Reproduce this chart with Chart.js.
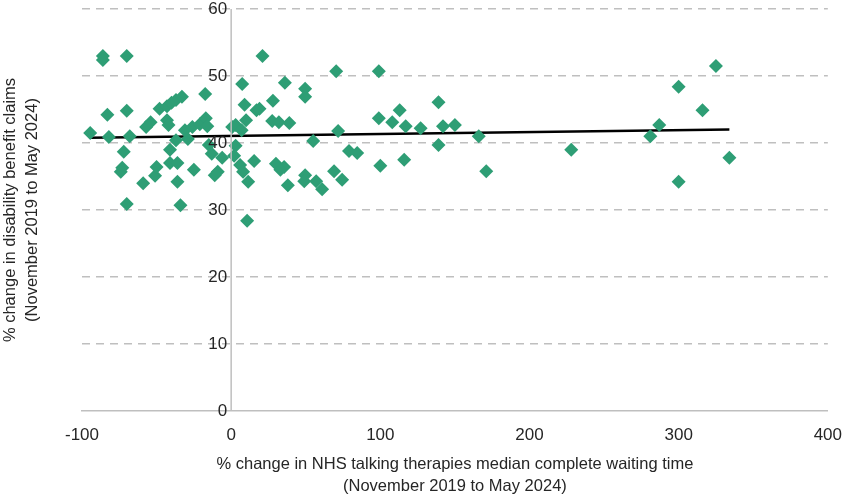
<!DOCTYPE html>
<html>
<head>
<meta charset="utf-8">
<script src="https://cdn.jsdelivr.net/npm/chart.js@4"></script>
<style>
  body { margin: 0; background: #fff; }
  #wrap { width: 848px; height: 502px; }
</style>
</head>
<body>
<div id="wrap"><canvas id="chart"></canvas></div>
<script>
const waitChange = [-94.5, -86, -86, -83, -82, -70, -70, -68, -72, -73, -74, -70, -59, -57, -54, -51, -50, -48, -43, -43, -40, -37, -33, -42, -41, -41, -36, -36, -34, -37, -31, -29, -26, -25, -21, -17.4, -17, -16, -15, -13, -11, -9, -6,
  0.7, 3, 3, 2, 7.4, 9, 10, 6, 8, 7, 11.4, 10.7, 15.4, 17, 19, 21, 27.5, 28, 32, 30, 35.5, 33, 36, 39, 38, 49.6, 49.6, 49.6, 49, 55, 57, 61, 69, 70.4, 71.7, 74.4, 79, 84.5,
  99, 99, 100, 108, 113, 117, 116, 127, 139, 139, 142, 150, 166, 171, 228, 281, 287, 300, 300, 316, 325, 334];
const claimChange = [41.5, 53.0, 52.4, 44.2, 40.9, 53, 44.8, 41, 38.7, 36.3, 35.7, 30.9, 34.0, 42.4, 43.1, 35.1, 36.4, 45.1, 43.4, 45.5, 46, 46.4, 46.9, 42.7, 39.0, 37.0, 37, 34.2, 30.7, 40.4, 41.9, 40.6, 42.4, 36.0, 42.8, 47.3, 43.7, 42.5, 39.7, 38.4, 35.2, 35.7, 37.8,
  42.4, 42.7, 39.6, 38.1, 48.8, 45.7, 43.4, 36.7, 35.7, 41.9, 34.2, 28.4, 37.3, 44.9, 45.1, 53.0, 43.3, 46.3, 43.1, 36.9, 36.4, 36, 49, 43, 33.7, 48.1, 46.9, 35.2, 34.3, 40.3, 34.3, 33.1, 35.8, 50.7, 41.8, 34.5, 38.8, 38.5,
  50.7, 43.7, 36.6, 43.1, 44.9, 42.5, 37.5, 42.2, 46.1, 39.7, 42.5, 42.7, 41.0, 35.8, 39.0, 41.0, 42.7, 48.4, 34.2, 44.9, 51.5, 37.8];
const trendX = [-95, 334];
const trendY = [40.8, 42.0];
const xTicks = [-100, 0, 100, 200, 300, 400];
const yTicks = [0, 10, 20, 30, 40, 50, 60];

const font = 'Liberation Sans, Arial, sans-serif';
const textColor = '#262626';

// y tick labels and vertical axis sit at x = 0
const zeroAxis = {
  id: 'zeroAxis',
  afterDatasetsDraw(chart) {
    const { ctx, scales: { x, y } } = chart;
    const x0 = x.getPixelForValue(0);
    ctx.save();
    ctx.strokeStyle = '#bfbfbf';
    ctx.lineWidth = 1.5;
    ctx.beginPath();
    ctx.moveTo(x0, y.top);
    ctx.lineTo(x0, y.bottom);
    ctx.stroke();
    ctx.fillStyle = textColor;
    ctx.font = '17px ' + font;
    ctx.textAlign = 'right';
    ctx.textBaseline = 'middle';
    yTicks.forEach(v => ctx.fillText(String(v), x0 - 4, y.getPixelForValue(v)));
    ctx.restore();
  }
};

new Chart(document.getElementById('chart'), {
  type: 'scatter',
  data: {
    datasets: [
      {
        data: waitChange.map((v, i) => ({ x: v, y: claimChange[i] })),
        pointStyle: 'rectRot',
        pointRadius: 7,
        backgroundColor: '#2e9e75',
        borderColor: '#2e9e75',
        borderWidth: 0
      },
      {
        type: 'line',
        data: trendX.map((v, i) => ({ x: v, y: trendY[i] })),
        borderColor: '#000',
        borderWidth: 2.5,
        pointRadius: 0
      }
    ]
  },
  options: {
    responsive: true,
    maintainAspectRatio: false,
    animation: false,
    layout: { padding: { top: 9, right: 20 } },
    plugins: { legend: { display: false }, tooltip: { enabled: false } },
    scales: {
      x: {
        min: -100, max: 400,
        afterBuildTicks: s => { s.ticks = xTicks.map(v => ({ value: v })); },
        afterFit: s => { s.height = 91; },
        grid: { display: false },
        border: { color: '#bfbfbf', width: 1.5 },
        ticks: { color: textColor, font: { size: 17, family: font }, padding: 6 },
        title: {
          display: true,
          text: ['% change in NHS talking therapies median complete waiting time', '(November 2019 to May 2024)'],
          color: textColor, font: { size: 16.5, family: font, lineHeight: 1.35 }, padding: { top: 13 }
        }
      },
      y: {
        min: 0, max: 60,
        afterBuildTicks: s => { s.ticks = yTicks.map(v => ({ value: v })); },
        afterFit: s => { s.width = 82; },
        border: { display: false, dash: [8, 6] },
        grid: {
          color: c => c.tick.value === 0 ? 'rgba(0,0,0,0)' : '#bfbfbf',
          lineWidth: 1.5,
          drawTicks: false
        },
        ticks: { display: false },
        title: {
          display: true,
          text: ['% change in disability benefit claims', '(November 2019 to May 2024)'],
          color: textColor, font: { size: 16.5, family: font, lineHeight: 1.3 }, padding: 0
        }
      }
    }
  },
  plugins: [zeroAxis]
});
</script>
</body>
</html>
